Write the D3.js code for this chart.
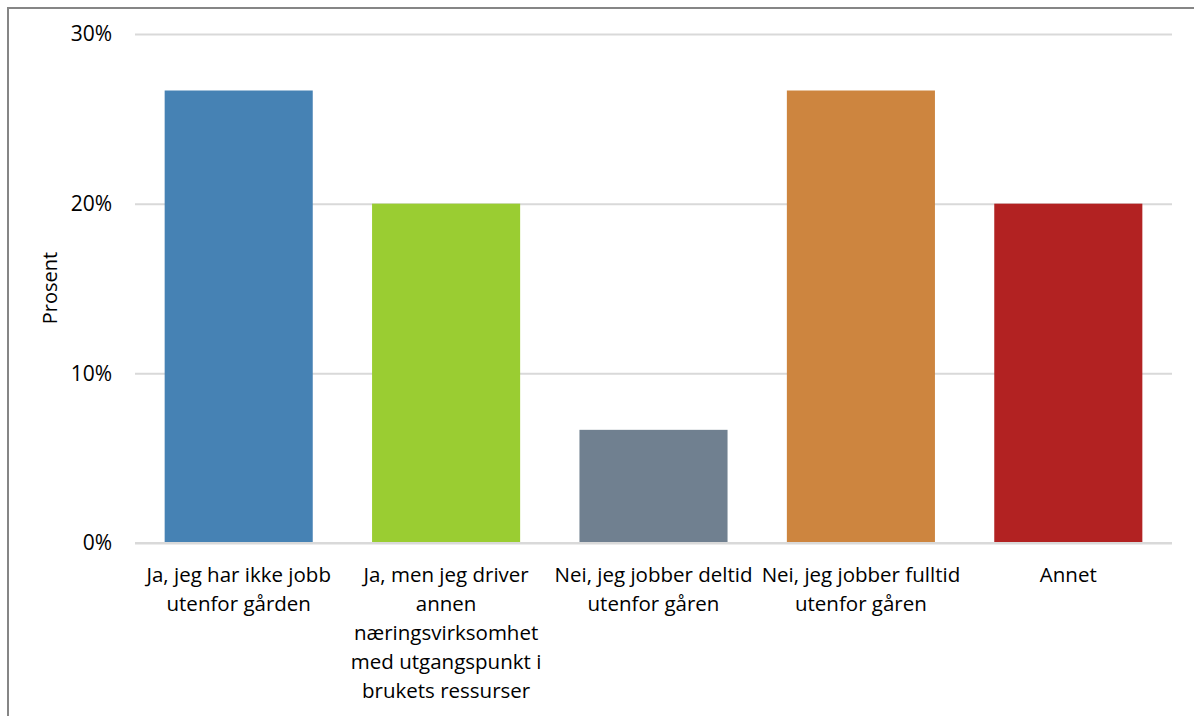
<!DOCTYPE html>
<html>
<head>
<meta charset="utf-8">
<script src="https://cdn.jsdelivr.net/npm/d3@7"></script>
<style>
  html, body { margin: 0; padding: 0; background: #fff; }
  svg { display: block; }
  text { font-family: "Open Sans", sans-serif; fill: #000; }
</style>
</head>
<body>
<svg id="chart" width="1194" height="716"></svg>
<script>
const categories = [
  "Ja, jeg har ikke jobb|utenfor gården",
  "Ja, men jeg driver|annen|næringsvirksomhet|med utgangspunkt i|brukets ressurser",
  "Nei, jeg jobber deltid|utenfor gåren",
  "Nei, jeg jobber fulltid|utenfor gåren",
  "Annet"
];
const values = [26.67, 20, 6.67, 26.67, 20];
const colors = ["#4682B4", "#9ACD32", "#708090", "#CD853F", "#B22222"];
const yTicks = [0, 10, 20, 30];
const yLabel = "Prosent";

const svg = d3.select("#chart");
const mLeft = 135, mRight = 1172, mTop = 34, mBottom = 543;

// outer chart border (cut off at right/bottom)
svg.append("rect")
  .attr("x", 8).attr("y", 8).attr("width", 1200).attr("height", 720)
  .attr("fill", "#fff").attr("stroke", "#868686").attr("stroke-width", 2);

const x = d3.scaleBand().domain(categories).range([mLeft, mRight]).paddingInner(0.286).paddingOuter(0.143);
const y = d3.scaleLinear().domain([0, 30]).range([mBottom, mTop]);

// gridlines
const yAxis = d3.axisLeft(y).tickValues(yTicks).tickSize(-(mRight - mLeft)).tickFormat(d => d + "%").tickPadding(23);
const gy = svg.append("g").attr("transform", `translate(${mLeft},0)`).call(yAxis);
gy.select(".domain").remove();
gy.selectAll(".tick line").attr("stroke", "#D9D9D9").attr("stroke-width", 2);
gy.selectAll(".tick text").attr("font-size", 21).attr("font-family", "Open Sans, sans-serif").attr("fill", "#000");

// bars
svg.append("g").selectAll("rect")
  .data(categories)
  .join("rect")
  .attr("x", d => x(d))
  .attr("width", x.bandwidth())
  .attr("y", (d, i) => y(values[i]))
  .attr("height", (d, i) => y(0) - y(values[i]))
  .attr("fill", (d, i) => colors[i]);

// redraw baseline on top
svg.append("line")
  .attr("x1", mLeft).attr("x2", mRight).attr("y1", y(0)).attr("y2", y(0))
  .attr("stroke", "#D9D9D9").attr("stroke-width", 2);

// x labels
const xl = svg.append("g");
categories.forEach(c => {
  const lines = c.split("|");
  const cx = x(c) + x.bandwidth() / 2;
  const t = xl.append("text")
    .attr("text-anchor", "middle")
    .attr("font-size", 20.5);
  lines.forEach((ln, j) => {
    t.append("tspan").attr("x", cx).attr("y", 582 + j * 29).text(ln);
  });
});

// y label
svg.append("text")
  .attr("transform", `translate(57,288) rotate(-90)`)
  .attr("text-anchor", "middle")
  .attr("font-size", 20)
  .text(yLabel);
</script>
</body>
</html>
